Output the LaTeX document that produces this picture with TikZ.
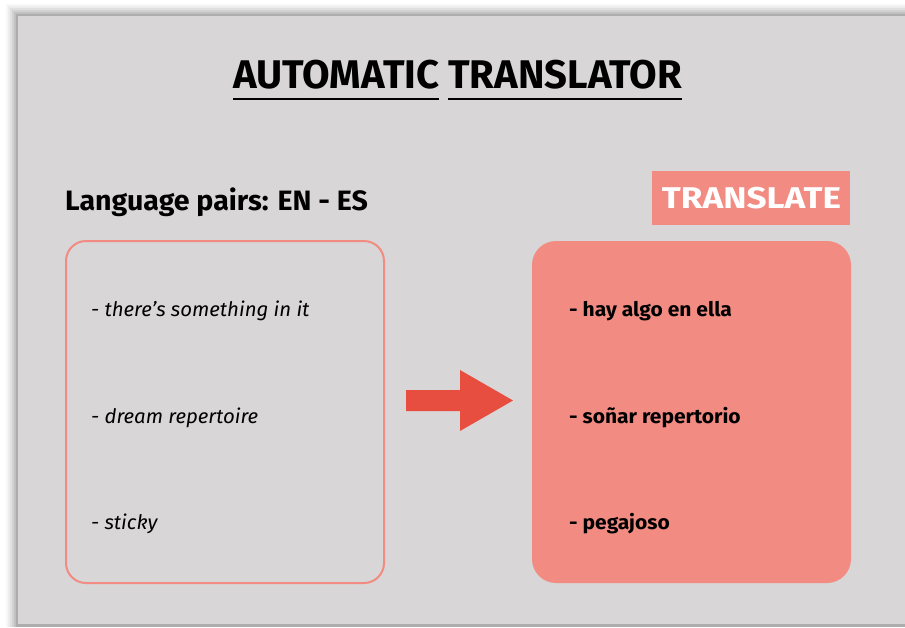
\documentclass[tikz,border=0pt]{standalone}
\usepackage{fontspec}
\setmainfont{Fira Sans}
\newfontfamily\titlefont{Fira Sans}[FakeStretch=1.0]
\newfontfamily\lpfont{Fira Sans}[FakeStretch=1.02]
\newfontfamily\btnfont{Fira Sans}[FakeStretch=1.17]
\newfontfamily\leftfont{Fira Sans}[FakeStretch=1.02]
\newfontfamily\rightfont{Fira Sans}[FakeStretch=1.05]
\definecolor{panelgray}{HTML}{D8D6D7}
\definecolor{salmon}{HTML}{F28B82}
\definecolor{arrowred}{HTML}{E84E40}
\tikzset{
  titleword/.style={anchor=base west, inner sep=0pt, font=\titlefont\fontsize{40}{40}\selectfont\bfseries},
  itemleft/.style={anchor=base west, inner sep=0pt, font=\leftfont\fontsize{20}{20}\selectfont\itshape},
  itemright/.style={anchor=base west, inner sep=0pt, font=\rightfont\fontsize{20}{20}\selectfont\bfseries},
}
\begin{document}
\begin{tikzpicture}[x=1pt,y=-1pt]
\useasboundingbox (0,0) rectangle (905,627);
\fill[white] (0,0) rectangle (905,627);
% shadow
\foreach \d/\o in {12/0.03,10/0.04,8/0.05,6/0.06,4/0.08,2/0.10}{
  \fill[black,opacity=\o] (18-\d,16-\d) rectangle (910,627);
}
\fill[panelgray] (18,16) rectangle (905,624);
% title
\node[titleword] (t1) at (233,88) {AUTOMATIC};
\node[titleword] (t2) at (448,88) {TRANSLATOR};
\draw[line width=2.2pt] ([yshift=-11pt]t1.base west) -- ([yshift=-11pt]t1.base east);
\draw[line width=2.2pt] ([yshift=-11pt]t2.base west) -- ([yshift=-11pt]t2.base east);
% language pairs
\node[anchor=base west, inner sep=0pt, font=\lpfont\fontsize{28}{28}\selectfont\bfseries] (lp) at (65,210) {Language pairs: EN - ES};
% translate button
\node[fill=salmon, minimum width=198pt, minimum height=54pt, inner sep=0pt] (btn) at (751,198) {};
\node[text=white, font=\btnfont\fontsize{30}{30}\selectfont\bfseries, inner sep=0pt, anchor=base] (btntext) at (751.5,208) {TRANSLATE};
% boxes
\draw[salmon, line width=2pt, rounded corners=20pt] (66,241) rectangle (384,583);
\coordinate (lbox) at (384,400);
\fill[salmon, rounded corners=24pt] (532,241) rectangle (851,583);
\coordinate (rbox) at (532,400);
% arrow
\fill[arrowred] (406,390) -- (460,390) -- (460,370) -- (513,400.5) -- (460,431) -- (460,411) -- (406,411) -- cycle;
% items
\node[itemleft] (l1) at (91,316) {- there’s something in it};
\node[itemleft] (l2) at (91,423) {- dream repertoire};
\node[itemleft] (l3) at (91,529) {- sticky};
\node[itemright] (r1) at (569,316) {- hay algo en ella};
\node[itemright] (r2) at (569,423) {- soñar repertorio};
\node[itemright] (r3) at (569,529) {- pegajoso};
\end{tikzpicture}
\end{document}
